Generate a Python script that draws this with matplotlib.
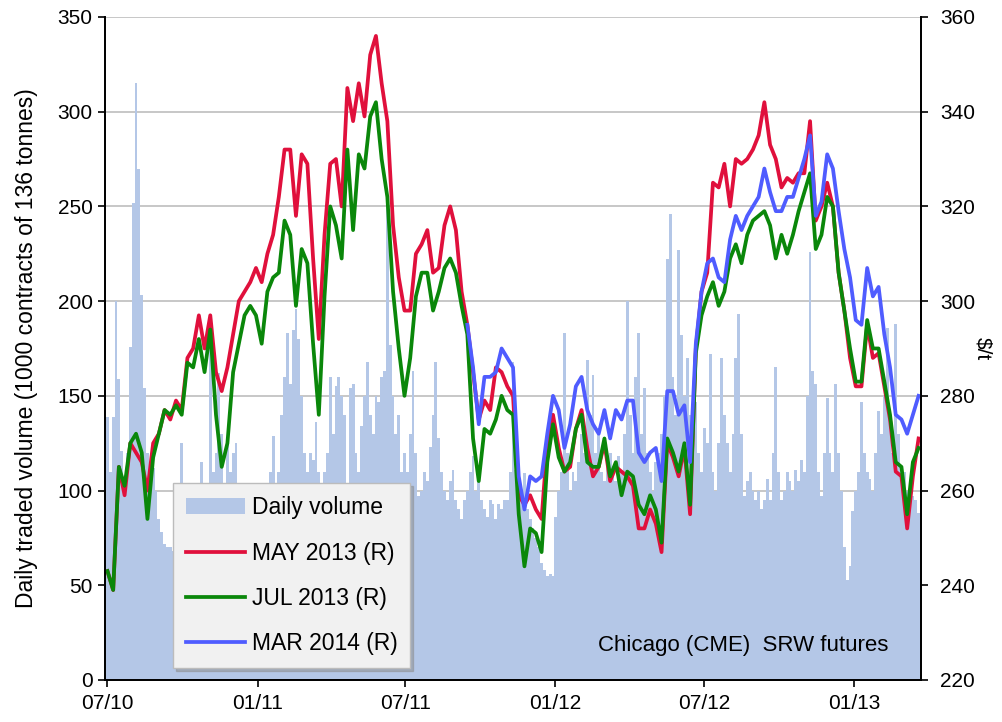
import pandas as pd
import matplotlib
matplotlib.use("Agg")
import matplotlib.pyplot as plt

plt.rcParams['font.family'] = ['Liberation Sans', 'DejaVu Sans']

# weekly price samples ($/t)
may13 = [243, 239, 265, 259, 270, 268, 266, 260, 270, 272,
         277, 275, 279, 277, 288, 290, 297, 290, 297, 285,
         281, 286, 293, 300, 302, 304, 307, 304, 310, 314,
         322, 332, 332, 318, 331, 329, 309, 292, 314, 329,
         330, 320, 345, 338, 346, 339, 352, 356, 346, 338,
         316, 305, 298, 298, 310, 312, 315, 306, 307, 316,
         320, 315, 302, 295, 285, 275, 279, 277, 286, 285,
         282, 280, 259, 257, 259, 256, 254, 270, 276, 269,
         264, 265, 273, 277, 269, 263, 265, 270, 262, 265,
         264, 263, 261, 252, 252, 256, 253, 247, 270, 267,
         263, 269, 255, 290, 302, 306, 325, 324, 329, 320,
         330, 329, 330, 332, 335, 342, 333, 330, 324, 326,
         325, 327, 327, 338, 317, 320, 325, 320, 306, 298,
         288, 282, 282, 295, 288, 289, 282, 275, 264, 263,
         252, 263, 271]

jul13 = [243, 239, 265, 261, 270, 272, 268, 254, 267, 272,
         277, 276, 278, 276, 287, 286, 292, 285, 294, 276,
         265, 270, 285, 291, 297, 299, 297, 291, 302, 305,
         306, 317, 314, 299, 311, 308, 291, 276, 301, 320,
         316, 309, 332, 315, 331, 328, 339, 342, 330, 322,
         302, 290, 280, 288, 301, 306, 306, 298, 302, 307,
         309, 306, 299, 293, 271, 262, 273, 272, 275, 280,
         277, 276, 255, 244, 252, 251, 247, 266, 274, 267,
         264, 266, 273, 276, 266, 265, 265, 271, 263, 266,
         259, 264, 263, 257, 255, 259, 256, 249, 271, 268,
         264, 270, 257, 289, 297, 301, 304, 299, 302, 309,
         312, 308, 314, 317, 318, 319, 316, 309, 314, 310,
         314, 319, 323, 327, 311, 314, 322, 320, 306, 298,
         290, 283, 283, 296, 290, 290, 283, 276, 266, 265,
         255, 266, 269]

# MAR 2014 quoted from week 63 on
mar14 = [295, 286, 274, 284, 284, 285, 290, 288,
         286, 263, 256, 263, 262, 263, 272, 280, 277, 269,
         274, 282, 284, 277, 274, 272, 277, 271, 277, 275,
         279, 279, 268, 266, 268, 269, 262, 281, 281, 276,
         278, 266, 291, 302, 308, 309, 305, 304, 313, 318,
         315, 318, 320, 322, 328, 323, 319, 319, 322, 322,
         326, 330, 335, 318, 321, 331, 328, 319, 311, 305,
         296, 295, 307, 301, 303, 293, 286, 276, 275, 272,
         276, 280]

# traded volume (1000 contracts), twice a week
volume = [139, 110, 139, 200, 159, 121, 105, 120, 176, 252,
          315, 270, 203, 154, 120, 110, 112, 100, 85, 78,
          72, 70, 70, 68, 65, 75, 125, 80, 70, 75,
          85, 80, 90, 115, 95, 100, 176, 110, 120, 162,
          130, 100, 125, 110, 120, 125, 90, 80, 75, 85,
          80, 90, 95, 85, 100, 90, 95, 110, 129, 100,
          110, 140, 160, 183, 156, 185, 196, 180, 150, 120,
          110, 120, 116, 136, 110, 100, 110, 120, 160, 130,
          155, 160, 150, 140, 100, 154, 156, 120, 110, 134,
          150, 168, 140, 130, 150, 147, 160, 163, 250, 177,
          150, 130, 140, 110, 120, 110, 130, 163, 120, 97,
          100, 110, 105, 123, 140, 168, 128, 110, 100, 95,
          105, 111, 95, 90, 85, 95, 100, 110, 118, 100,
          109, 95, 90, 86, 95, 93, 85, 93, 90, 95,
          95, 110, 168, 111, 95, 100, 109, 90, 85, 80,
          75, 70, 62, 58, 55, 56, 55, 86, 100, 110,
          183, 120, 100, 110, 105, 115, 130, 120, 169, 140,
          161, 120, 133, 110, 105, 115, 120, 110, 105, 118,
          110, 130, 200, 140, 120, 160, 183, 130, 154, 120,
          110, 100, 115, 120, 130, 150, 222, 246, 160, 140,
          227, 182, 150, 170, 140, 130, 147, 120, 110, 133,
          125, 172, 110, 100, 125, 170, 140, 125, 110, 130,
          170, 193, 130, 97, 105, 110, 100, 95, 100, 90,
          95, 106, 95, 120, 165, 110, 95, 100, 110, 105,
          100, 111, 105, 116, 110, 150, 226, 163, 156, 110,
          97, 120, 149, 120, 110, 156, 120, 100, 70, 53,
          60, 89, 100, 110, 147, 120, 110, 106, 100, 120,
          142, 130, 150, 186, 140, 120, 188, 130, 113, 110,
          100, 105, 97, 95, 88]

tick_dates = ['2010-07-01', '2011-01-01', '2011-07-01',
              '2012-01-01', '2012-07-01', '2013-01-01']
tick_labels = ['07/10', '01/11', '07/11', '01/12', '07/12', '01/13']

weeks = pd.date_range('2010-07-01', periods=len(may13), freq='7D')
mar14_weeks = weeks[len(weeks) - len(mar14):]
bar_days = pd.date_range('2010-07-01', periods=len(volume), freq='84h')

fig = plt.figure(figsize=(10.02, 7.22), dpi=100)
ax = fig.add_axes([0.1048, 0.0582, 0.8144, 0.9183])

bars = ax.bar(bar_days, volume, width=3.5, color='#b4c7e7', linewidth=0,
              label='Daily volume')
ax.set_ylim(0, 350)
ax.set_yticks(range(0, 351, 50))
ax.grid(axis='y', color='#c3c3c3', lw=1.3)
ax.set_axisbelow(True)
ax.set_xlim(pd.Timestamp('2010-06-28'), pd.Timestamp('2013-03-24'))
ax.set_xticks(pd.to_datetime(tick_dates))
ax.set_xticklabels(tick_labels)

ax2 = ax.twinx()
l1, = ax2.plot(weeks, may13, color='#e0103c', lw=2.7, label='MAY 2013 (R)')
l2, = ax2.plot(weeks, jul13, color='#0a870a', lw=2.7, label='JUL 2013 (R)')
l3, = ax2.plot(mar14_weeks, mar14, color='#4f5cff', lw=2.7, label='MAR 2014 (R)')
ax2.set_ylim(220, 360)
ax2.set_yticks(range(220, 361, 20))

for a in (ax, ax2):
    a.spines['top'].set_visible(False)
    for s in ('left', 'right', 'bottom'):
        a.spines[s].set_linewidth(1.3)
    a.tick_params(direction='out', length=5, width=1.2, labelsize=15)
ax.tick_params(axis='y', pad=4)
ax2.tick_params(axis='y', pad=9)
ax.tick_params(axis='x', pad=5)

ax.set_ylabel('Daily traded volume (1000 contracts of 136 tonnes)',
              fontsize=16.5, labelpad=14)
ax2.set_ylabel('$/t', fontsize=15, rotation=270, labelpad=12)

ax.text(0.96, 0.044, 'Chicago (CME)  SRW futures', transform=ax.transAxes,
        ha='right', va='baseline', fontsize=16)

leg = ax2.legend([bars, l1, l2, l3],
                 ['Daily volume', 'MAY 2013 (R)', 'JUL 2013 (R)', 'MAR 2014 (R)'],
                 loc='lower left', bbox_to_anchor=(0.0833, 0.018),
                 borderaxespad=0, fontsize=16.5, handlelength=2.6,
                 labelspacing=0.98, borderpad=0.55, handletextpad=0.3,
                 fancybox=False, facecolor='#f1f1f1', edgecolor='#bcbcbc',
                 framealpha=1, shadow={'color': '0.55', 'alpha': 0.5})

fig.savefig('out.png', dpi=100)
